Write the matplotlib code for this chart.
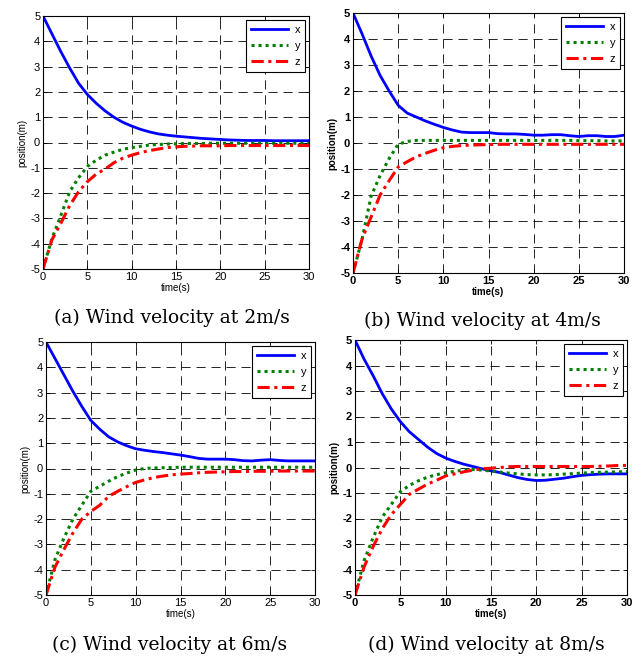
import matplotlib
matplotlib.use("Agg")
import matplotlib.pyplot as plt

# time axis (s)
t = list(range(0, 31))

# (a) wind 2 m/s
xa = [5, 4.3, 3.6, 2.95, 2.35, 1.9, 1.55, 1.25, 1.0, 0.8, 0.65, 0.52, 0.42, 0.34, 0.29, 0.25,
      0.22, 0.19, 0.16, 0.14, 0.12, 0.1, 0.09, 0.08, 0.08, 0.08, 0.07, 0.07, 0.07, 0.07, 0.07]
ya = [-5, -3.8, -2.9, -1.95, -1.4, -0.95, -0.7, -0.5, -0.38, -0.27, -0.2, -0.15, -0.1, -0.08, -0.06, -0.05,
      -0.04, -0.04, -0.04, -0.03, -0.03, -0.03, -0.03, -0.03, -0.03, -0.03, -0.03, -0.03, -0.03, -0.03, -0.03]
za = [-5, -3.85, -3.2, -2.5, -1.95, -1.55, -1.25, -1.05, -0.8, -0.62, -0.5, -0.4, -0.32, -0.26, -0.2, -0.17,
      -0.15, -0.14, -0.13, -0.13, -0.13, -0.12, -0.12, -0.12, -0.12, -0.12, -0.12, -0.12, -0.12, -0.12, -0.12]

# (b) wind 4 m/s
xb = [5, 4.2, 3.35, 2.6, 2.0, 1.45, 1.15, 1.0, 0.85, 0.72, 0.6, 0.5, 0.42, 0.4, 0.4, 0.4,
      0.36, 0.35, 0.35, 0.33, 0.3, 0.3, 0.32, 0.32, 0.28, 0.25, 0.28, 0.28, 0.25, 0.25, 0.3]
yb = [-5, -3.7, -2.05, -1.25, -0.6, -0.05, 0.06, 0.1, 0.1, 0.1, 0.1, 0.1, 0.1, 0.1, 0.1, 0.1,
      0.1, 0.1, 0.1, 0.1, 0.1, 0.1, 0.1, 0.1, 0.1, 0.09, 0.09, 0.09, 0.08, 0.08, 0.08]
zb = [-5, -3.7, -2.85, -2.0, -1.45, -0.92, -0.72, -0.53, -0.4, -0.28, -0.18, -0.13, -0.1, -0.08, -0.07, -0.06,
      -0.05, -0.05, -0.05, -0.05, -0.05, -0.05, -0.05, -0.05, -0.05, -0.05, -0.05, -0.05, -0.05, -0.05, -0.05]

# (c) wind 6 m/s
xc = [5, 4.35, 3.7, 3.05, 2.45, 1.9, 1.55, 1.25, 1.05, 0.9, 0.78, 0.72, 0.67, 0.63, 0.58, 0.53,
      0.47, 0.4, 0.37, 0.37, 0.37, 0.35, 0.31, 0.3, 0.33, 0.35, 0.32, 0.3, 0.3, 0.3, 0.3]
yc = [-5, -3.6, -2.75, -2.0, -1.45, -0.9, -0.7, -0.5, -0.32, -0.18, -0.06, 0.0, 0.02, 0.03, 0.04, 0.05,
      0.05, 0.05, 0.05, 0.05, 0.05, 0.05, 0.05, 0.05, 0.05, 0.05, 0.05, 0.05, 0.05, 0.05, 0.05]
zc = [-5, -3.9, -3.2, -2.55, -2.0, -1.7, -1.45, -1.1, -0.9, -0.72, -0.55, -0.45, -0.36, -0.3, -0.25, -0.22,
      -0.2, -0.17, -0.15, -0.14, -0.13, -0.12, -0.12, -0.11, -0.11, -0.11, -0.1, -0.1, -0.1, -0.1, -0.1]

# (d) wind 8 m/s
xd = [5, 4.25, 3.6, 2.9, 2.3, 1.8, 1.4, 1.1, 0.8, 0.55, 0.37, 0.24, 0.13, 0.04, -0.05, -0.13,
      -0.2, -0.3, -0.4, -0.47, -0.51, -0.5, -0.46, -0.42, -0.36, -0.31, -0.28, -0.26, -0.25, -0.25, -0.25]
yd = [-5, -3.65, -2.75, -1.95, -1.45, -0.95, -0.7, -0.52, -0.38, -0.28, -0.21, -0.15, -0.1, -0.08, -0.1, -0.14,
      -0.18, -0.22, -0.25, -0.28, -0.29, -0.29, -0.28, -0.26, -0.24, -0.22, -0.2, -0.19, -0.18, -0.17, -0.16]
zd = [-5, -3.9, -3.1, -2.4, -1.85, -1.45, -1.05, -0.85, -0.65, -0.5, -0.33, -0.25, -0.17, -0.1, -0.05, -0.03,
      0.0, 0.03, 0.04, 0.04, 0.04, 0.04, 0.04, 0.04, 0.04, 0.04, 0.04, 0.05, 0.06, 0.08, 0.08]

captions = ["(a) Wind velocity at 2m/s", "(b) Wind velocity at 4m/s",
            "(c) Wind velocity at 6m/s", "(d) Wind velocity at 8m/s"]
series_labels = ["x", "y", "z"]
xticks = [0, 5, 10, 15, 20, 25, 30]
yticks = [-5, -4, -3, -2, -1, 0, 1, 2, 3, 4, 5]

panels = [(xa, ya, za), (xb, yb, zb), (xc, yc, zc), (xd, yd, zd)]

W, H = 642, 657
fig = plt.figure(figsize=(W / 100, H / 100), dpi=100)
plt.rcParams['font.family'] = ['Liberation Sans', 'DejaVu Sans']

# axes boxes in pixels: left, top, right, bottom
boxes = [(43, 16, 309, 269), (353, 13, 624, 273), (46, 342, 315, 595), (355, 340, 627, 595)]
cap_pos = [(172, 318), (482, 321), (170, 645), (486, 645)]
bold = [False, True, False, True]

for i, ((sx, sy, sz), (l, tp, r, b)) in enumerate(zip(panels, boxes)):
    ax = fig.add_axes([l / W, 1 - b / H, (r - l) / W, (b - tp) / H])
    ax.plot(t, sx, color='#0000ff', lw=2.0, label=series_labels[0])
    ax.plot(t, sy, color='#008000', lw=2.2, linestyle=(0, (1, 1.3)), label=series_labels[1])
    ax.plot(t, sz, color='#ff0000', lw=2.2, linestyle=(0, (4, 1.5, 1, 1.5)), label=series_labels[2])
    ax.set_xlim(0, 30)
    ax.set_ylim(-5, 5)
    ax.set_xticks(xticks)
    ax.set_yticks(yticks)
    fw = 'bold' if bold[i] else 'normal'
    ax.set_xticklabels([str(v) for v in xticks], fontsize=8, fontweight=fw)
    ax.set_yticklabels([str(v) for v in yticks], fontsize=8, fontweight=fw)
    ax.tick_params(direction='in', length=3, width=0.6, pad=2, top=True, right=True)
    ax.grid(True, color='black', linestyle=(0, (11, 7)), lw=0.6)
    ax.set_axisbelow(True)
    for s in ax.spines.values():
        s.set_linewidth(0.8)
    ax.set_xlabel("time(s)", fontsize=7, fontweight=fw, labelpad=1)
    ax.set_ylabel("position(m)", fontsize=7, fontweight=fw, labelpad=2)
    leg = ax.legend(loc='upper right', fontsize=8, fancybox=False, edgecolor='black',
                    framealpha=1, handlelength=3.3, borderaxespad=0.35, labelspacing=0.55,
                    handletextpad=0.6, borderpad=0.45)
    leg.get_frame().set_linewidth(0.8)
    cx, cy = cap_pos[i]
    fig.text(cx / W, 1 - cy / H, captions[i], ha='center', va='center',
             fontsize=13.5, family=['DejaVu Serif'])

fig.savefig("out.png", dpi=100)
